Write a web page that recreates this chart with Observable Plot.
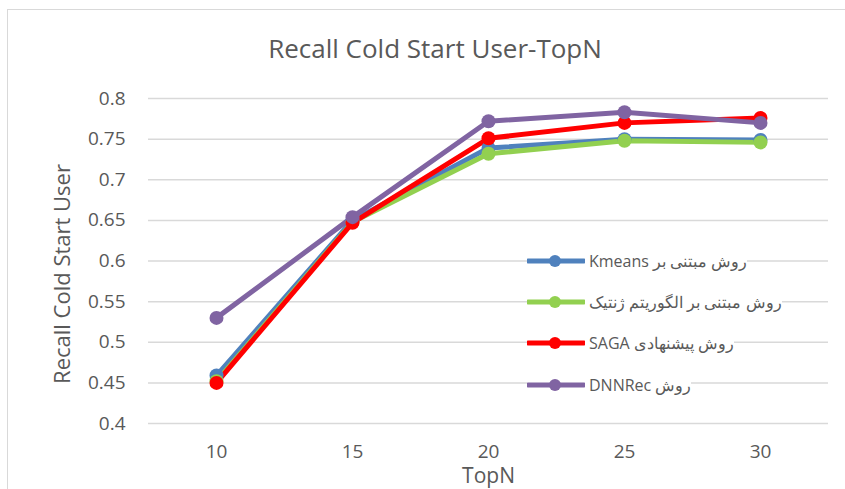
<!DOCTYPE html>
<html>
<head>
<meta charset="utf-8">
<script src="https://cdn.jsdelivr.net/npm/d3@7"></script>
<script src="https://cdn.jsdelivr.net/npm/@observablehq/plot@0.6"></script>
<style>
  html, body { margin: 0; padding: 0; background: #fff; }
  #wrap { position: relative; width: 845px; height: 489px; overflow: hidden; font-family: "Open Sans", sans-serif; color: #595959; }
  #frame { position: absolute; left: 7px; top: 9px; width: 900px; height: 600px; border-left: 1.5px solid #d9d9d9; border-top: 1.5px solid #d9d9d9; pointer-events: none; }
  #title { height: 70px; line-height: 26px; padding-top: 35px; box-sizing: border-box; text-align: center; font-size: 26px; padding-left: 25px; white-space: nowrap; }
  #legend { position: absolute; left: 527px; top: 250px; }
  .row { position: absolute; left: 0; display: flex; align-items: center; background: #fff; height: 22px; white-space: nowrap; font-size: 16px; }
  .row svg { display: block; margin-right: 4px; }
  .row span { unicode-bidi: embed; }
</style>
</head>
<body>
<div id="wrap">
  <div id="frame"></div>
  <div id="title">Recall Cold Start User-TopN</div>
  <div id="chart"></div>
  <div id="legend"></div>
</div>
<script>
const topN = ["10", "15", "20", "25", "30"];
const seriesNames = [
  "روش مبتنی بر Kmeans",
  "روش مبتنی بر الگوریتم ژنتیک",
  "روش پیشنهادی SAGA",
  "روش DNNRec"
];
const seriesColors = ["#4f81bd", "#92d050", "#ff0000", "#8064a2"];
const kmeans  = [0.459, 0.650, 0.739, 0.750, 0.749];
const genetic = [0.452, 0.648, 0.732, 0.748, 0.746];
const saga    = [0.450, 0.647, 0.751, 0.770, 0.776];
const dnnrec  = [0.530, 0.654, 0.772, 0.783, 0.770];
const yTicks  = [0.4, 0.45, 0.5, 0.55, 0.6, 0.65, 0.7, 0.75, 0.8];
const xTitle = "TopN";
const yTitle = "Recall Cold Start User";

const seriesValues = [kmeans, genetic, saga, dnnrec];
const data = [];
seriesValues.forEach((vals, si) => {
  vals.forEach((v, i) => data.push({series: seriesNames[si], x: topN[i], y: v}));
});

const chart = Plot.plot({
  width: 845,
  height: 419,
  marginLeft: 148,
  marginRight: 17,
  marginTop: 28,
  marginBottom: 66,
  style: { fontFamily: "'Open Sans', sans-serif", color: "#595959", background: "transparent" },
  x: { type: "point", domain: topN, padding: 0.5 },
  y: { domain: [0.4, 0.8] },
  color: { domain: seriesNames, range: seriesColors },
  marks: [
    Plot.gridY(yTicks, { stroke: "#d9d9d9", strokeOpacity: 1, strokeWidth: 1.5 }),
    Plot.axisY(yTicks, { tickSize: 0, tickPadding: 23, fontSize: 19, label: null, tickFormat: d => String(+d.toFixed(2)) }),
    Plot.axisX({ tickSize: 0, tickPadding: 21, fontSize: 19, label: null }),
    Plot.text([yTitle], { frameAnchor: "left", textAnchor: "middle", rotate: -90, dx: -86, dy: 13, fontSize: 22, fill: "#595959" }),
    Plot.text([xTitle], { frameAnchor: "bottom", lineAnchor: "bottom", dy: 59, fontSize: 21, fill: "#595959" }),
    Plot.line(data, { x: "x", y: "y", z: "series", stroke: "series", strokeWidth: 5, strokeLinejoin: "round" }),
    Plot.dot(data, { x: "x", y: "y", fill: "series", r: 7 })
  ]
});
document.getElementById("chart").appendChild(chart);

const legend = document.getElementById("legend");
const rowTops = [0, 41, 82, 124];
seriesNames.forEach((name, i) => {
  const row = document.createElement("div");
  row.className = "row";
  row.style.top = rowTops[i] + "px";
  row.innerHTML = `<svg width="58" height="14"><line x1="1" y1="7" x2="57" y2="7" stroke="${seriesColors[i]}" stroke-width="5" stroke-linecap="round"/><circle cx="28" cy="7" r="6" fill="${seriesColors[i]}"/></svg><span dir="rtl">${name}</span>`;
  legend.appendChild(row);
});
</script>
</body>
</html>
